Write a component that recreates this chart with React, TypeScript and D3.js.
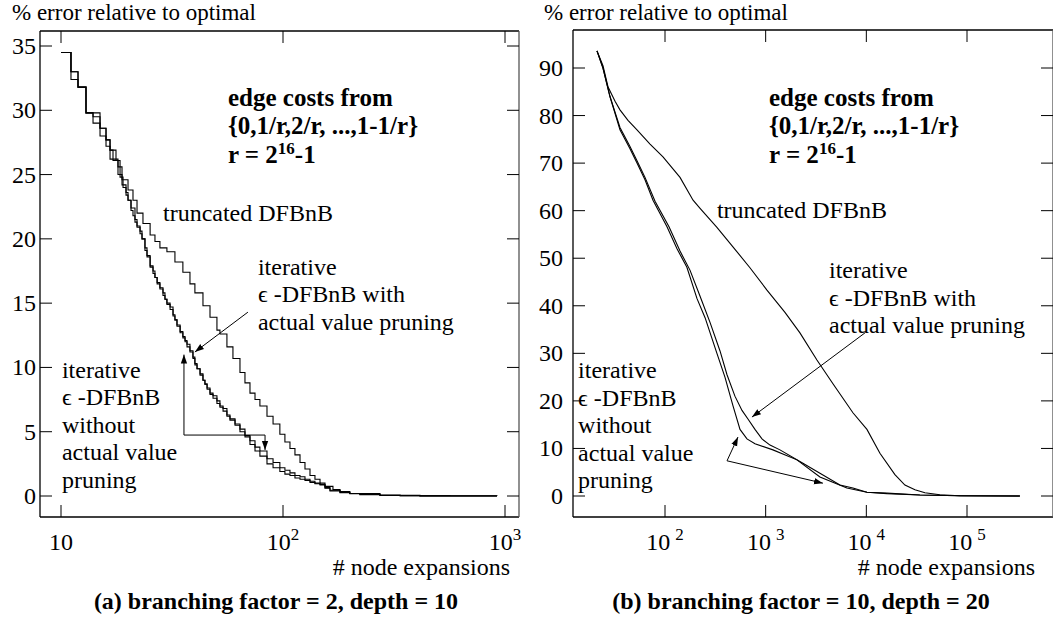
import React from 'react';
import * as d3 from 'd3';

const FONT = '"Liberation Serif", "DejaVu Serif", serif';

// ---- panel (a): branching factor 2, depth 10 ----
const aTruncX = [10, 11.09, 11.93, 12.96, 13.94, 14.99, 15.95, 16.63, 18.06, 18.83, 20.04, 21.1, 22.0, 23.4, 25.2, 26.5, 27.9, 30.0, 32.6, 35.4, 38.1, 40.1, 43.6, 46.9, 50.4, 52.0, 55.9, 59.5, 64.0, 67.4, 71.0, 74.8, 78.7, 84.7, 90.2, 96.8, 102, 107.5, 113.2, 119.3, 125.6, 132.3, 139.3, 146.8, 154.6, 167.9, 180.6, 200, 273.6, 414, 920];
const aTruncY = [34.5, 33.0, 31.8, 29.8, 29.0, 28.0, 27.2, 26.2, 25.6, 24.6, 23.8, 23.0, 22.0, 21.2, 20.3, 19.8, 19.3, 19.0, 18.2, 17.4, 16.5, 15.8, 14.8, 13.9, 12.9, 12.6, 11.6, 10.7, 9.6, 8.8, 8.0, 7.5, 7.0, 6.2, 5.6, 4.8, 4.2, 3.7, 3.2, 2.6, 2.1, 1.6, 1.3, 1.0, 0.75, 0.5, 0.35, 0.2, 0.06, 0.02, 0];

const aWithX = [10, 11.09, 11.93, 12.96, 13.94, 14.99, 15.95, 16.63, 17.15, 18.06, 18.83, 19.63, 20.04, 20.67, 21.1, 21.54, 22.0, 22.7, 23.17, 23.89, 24.4, 25.2, 25.97, 26.5, 27.1, 27.9, 28.8, 29.4, 30.0, 31.0, 31.96, 32.6, 33.3, 34.4, 35.4, 36.2, 36.95, 38.1, 39.3, 40.1, 41.0, 42.3, 43.6, 44.5, 45.5, 46.9, 48.4, 50.4, 52.0, 53.7, 55.9, 57.7, 60.8, 64.0, 67.4, 71.0, 74.8, 78.7, 84.7, 90.2, 96.8, 102, 107.5, 113.2, 119.3, 125.6, 132.3, 139.3, 146.8, 154.6, 162.8, 180.6, 200, 222, 273.6, 337, 414, 565, 920];
const aWithY = [34.5, 33.0, 31.8, 29.8, 29.5, 28.6, 27.7, 26.9, 26.1, 25.0, 24.2, 23.4, 23.0, 22.2, 21.8, 21.3, 20.9, 20.4, 20.0, 19.1, 18.6, 17.9, 17.3, 17.0, 16.5, 16.1, 15.6, 15.3, 14.9, 14.5, 14.0, 13.7, 13.2, 12.7, 12.3, 12.0, 11.6, 11.2, 10.7, 10.2, 9.9, 9.4, 9.0, 8.7, 8.3, 7.9, 7.6, 7.2, 6.9, 6.6, 6.2, 5.9, 5.5, 5.0, 4.6, 4.0, 3.5, 3.1, 2.5, 2.2, 1.9, 1.7, 1.6, 1.4, 1.3, 1.2, 1.05, 0.95, 0.85, 0.6, 0.4, 0.25, 0.18, 0.1, 0.05, 0.02, 0.01, 0, 0];

const aWithoutX = [10, 11.09, 11.93, 12.96, 14.99, 15.95, 16.63, 17.69, 18.45, 19.03, 19.63, 20.04, 20.67, 21.54, 22.0, 22.7, 23.17, 23.89, 24.4, 25.2, 25.97, 26.5, 27.1, 27.9, 28.8, 29.4, 30.0, 31.0, 31.96, 32.6, 33.3, 34.4, 35.4, 36.2, 36.95, 38.1, 39.3, 40.1, 41.0, 42.3, 43.6, 44.5, 45.5, 46.9, 48.4, 50.4, 52.0, 53.7, 55.9, 57.7, 60.8, 64.0, 67.4, 71.0, 74.8, 78.7, 84.7, 90.2, 96.8, 102, 107.5, 113.2, 119.3, 125.6, 132.3, 139.3, 146.8, 154.6, 162.8, 180.6, 200, 222, 273.6, 337, 414, 565, 920];
const aWithoutY = [34.5, 32.4, 31.8, 29.8, 28.6, 27.7, 26.9, 26.1, 24.8, 24.0, 23.6, 23.0, 22.4, 21.5, 21.0, 20.6, 20.0, 19.3, 18.7, 17.8, 17.5, 17.0, 16.6, 16.2, 15.8, 15.3, 15.0, 14.7, 14.1, 13.7, 13.3, 12.8, 12.4, 12.1, 11.8, 11.3, 10.8, 10.3, 9.9, 9.5, 9.0, 8.7, 8.4, 8.0, 7.8, 7.4, 7.0, 6.8, 6.3, 6.0, 5.6, 5.2, 4.7, 4.3, 3.8, 3.5, 2.9, 2.6, 2.2, 2.0, 1.8, 1.6, 1.5, 1.3, 1.15, 1.0, 0.9, 0.65, 0.45, 0.28, 0.2, 0.12, 0.06, 0.03, 0.01, 0, 0];

const aYTicks = [0, 5, 10, 15, 20, 25, 30, 35];
const aXTicks = [10, 100, 1000];
const aXTickLabels = [['10', ''], ['10', '2'], ['10', '3']];

// ---- panel (b): branching factor 10, depth 20 ----
const bTruncX = [21.1, 24.2, 27.2, 31.9, 35.7, 42.9, 52.7, 71.0, 95.5, 141, 190, 223, 328, 473, 698, 1030, 1555, 2190, 3230, 4660, 7360, 10140, 13650, 19230, 24170, 30400, 38200, 53800, 84900, 335000];
const bTruncY = [93.6, 90.5, 86, 83, 81.2, 79, 77, 74, 71.3, 67, 62.2, 60.5, 56.5, 52.4, 48, 43.3, 38.6, 34.3, 28.6, 23.6, 17.5, 14.0, 9.0, 4.5, 2.3, 1.3, 0.7, 0.25, 0.05, 0];

const bWithX = [21.1, 24.2, 28.4, 35.7, 44.9, 52.7, 63.3, 79.6, 109.6, 141, 177, 223, 280, 352, 413, 495, 582, 667, 783, 919, 1104, 1387, 2345, 3461, 5470, 7360, 10140, 16030, 34040, 84900, 335000];
const bWithY = [93.6, 90, 84, 77.5, 73.5, 70.5, 67, 62, 56.6, 51.5, 47.5, 42, 36.5, 30.5, 25.5, 21, 18, 16.2, 14, 12, 10.7, 9.7, 6.9, 4.8, 2.3, 1.7, 0.8, 0.5, 0.2, 0.05, 0];

const bWithoutX = [21.1, 24.2, 28.4, 35.7, 44.9, 52.7, 63.3, 76.0, 104.7, 131.6, 165, 208, 250, 328, 394, 473, 556, 652, 783, 1181, 2046, 3461, 6415, 10140, 16030, 34040, 84900, 335000];
const bWithoutY = [93.6, 90, 84, 77, 73, 70, 66.5, 62.2, 56.6, 52, 48.1, 41.5, 37.5, 30, 25, 19, 14, 12, 11, 9.7, 7.6, 4.0, 1.7, 0.8, 0.6, 0.2, 0.05, 0];

const bYTicks = [0, 10, 20, 30, 40, 50, 60, 70, 80, 90];
const bXTicks = [100, 1000, 10000, 100000];
const bXTickLabels = [['10', '2'], ['10', '3'], ['10', '4'], ['10', '5']];

const yTitle = '% error relative to optimal';
const xTitle = '# node expansions';
const captionA = '(a) branching factor = 2, depth = 10';
const captionB = '(b) branching factor = 10, depth = 20';
const costLines = ['edge costs from', '{0,1/r,2/r, ...,1-1/r}'];

function zip(xs: number[], ys: number[]): [number, number][] {
  return xs.map((x, i) => [x, ys[i]]);
}

type Label = { x: number; y: number; lines: string[] };
type Arrow = { pts: [number, number][]; start?: boolean };

function Panel(props: {
  x: d3.ScaleLogarithmic<number, number>;
  y: d3.ScaleLinear<number, number>;
  frame: { x0: number; x1: number; y0: number; y1: number };
  series: [number, number][][];
  step: boolean;
  yTicks: number[];
  xTicks: number[];
  xLabels: string[][];
  supGap: number;
  bold: { x: number; y: number };
  labels: Label[];
  lineGap: number;
  arrows: Arrow[];
  caption: string;
  captionX: number;
  xTitleEnd: number;
  titleX: number;
  yLabelEnd: number;
}) {
  const { x, y, frame } = props;
  const line = d3
    .line<[number, number]>()
    .x((d) => x(d[0]))
    .y((d) => y(d[1]))
    .curve(props.step ? d3.curveStepAfter : d3.curveLinear);
  const aline = d3
    .line<[number, number]>()
    .x((d) => x(d[0]))
    .y((d) => y(d[1]));
  const tl = 12;
  const bx = x(props.bold.x);
  const by = y(props.bold.y);
  return (
    <g style={{ fontFamily: FONT }} fill="#000">
      <text x={props.titleX} y={20} fontSize={23}>{yTitle}</text>
      <line x1={frame.x0} x2={frame.x1} y1={frame.y0} y2={frame.y0} stroke="#000" strokeWidth={1.3} />
      <line x1={frame.x0} x2={frame.x1} y1={frame.y1} y2={frame.y1} stroke="#000" strokeWidth={1.3} />
      <line x1={frame.x0} x2={frame.x0} y1={frame.y0} y2={frame.y1} stroke="#000" strokeWidth={1.3} />
      <line x1={frame.x1} x2={frame.x1} y1={frame.y0} y2={frame.y1} stroke="#555" strokeWidth={1.3} />
      {props.yTicks.map((t) => (
        <g key={'y' + t}>
          <line x1={frame.x0} x2={frame.x0 + tl} y1={y(t)} y2={y(t)} stroke="#000" />
          <line x1={frame.x1} x2={frame.x1 - tl} y1={y(t)} y2={y(t)} stroke="#000" />
          <text x={props.yLabelEnd} y={y(t) + 8} fontSize={24} textAnchor="end">{t}</text>
        </g>
      ))}
      {props.xTicks.map((t, i) => (
        <g key={'x' + t}>
          <line x1={x(t)} x2={x(t)} y1={frame.y1} y2={frame.y1 - tl} stroke="#000" />
          <line x1={x(t)} x2={x(t)} y1={frame.y0} y2={frame.y0 + tl} stroke="#000" />
          <text x={x(t)} y={550} fontSize={24} textAnchor="middle">
            {props.xLabels[i][0]}
            {props.xLabels[i][1] && (
              <tspan dx={props.supGap} dy={-10} fontSize={17}>{props.xLabels[i][1]}</tspan>
            )}
          </text>
        </g>
      ))}
      <text x={props.xTitleEnd} y={575} fontSize={24} textAnchor="end">{xTitle}</text>
      <text x={props.captionX} y={609} fontSize={24} fontWeight="bold" textAnchor="middle">
        {props.caption}
      </text>
      {props.series.map((s, i) => (
        <path key={'s' + i} d={line(s) || ''} fill="none" stroke="#000" strokeWidth={1.1} />
      ))}
      <g fontSize={25} fontWeight="bold">
        <text x={bx} y={by}>{costLines[0]}</text>
        <text x={bx} y={by + 28}>{costLines[1]}</text>
        <text x={bx} y={by + 57}>
          r = 2<tspan dy={-9} fontSize={17}>16</tspan>
          <tspan dy={9}>-1</tspan>
        </text>
      </g>
      {props.labels.map((l, i) => (
        <text key={'l' + i} x={x(l.x)} y={y(l.y)} fontSize={24}>
          {l.lines.map((t, j) => (
            <tspan key={j} x={x(l.x)} dy={j === 0 ? 0 : props.lineGap}>{t}</tspan>
          ))}
        </text>
      ))}
      {props.arrows.map((a, i) => (
        <path
          key={'a' + i}
          d={aline(a.pts) || ''}
          fill="none"
          stroke="#000"
          strokeWidth={1}
          markerEnd="url(#ah)"
          markerStart={a.start ? 'url(#ah)' : undefined}
        />
      ))}
    </g>
  );
}

export default function App() {
  const xA = d3.scaleLog().domain([10, 1000]).range([61, 505]);
  const yA = d3.scaleLinear().domain([0, 35]).range([496, 46]);
  const xB = d3.scaleLog().domain([100, 100000]).range([665, 967]);
  const yB = d3.scaleLinear().domain([0, 90]).range([496, 68]);

  return (
    <svg width={1053} height={624} style={{ position: 'absolute', left: 0, top: 0, background: '#fff' }}>
      <defs>
        <marker id="ah" viewBox="0 0 10 10" refX="10" refY="5" markerWidth="9" markerHeight="9" orient="auto-start-reverse">
          <path d="M0,1.5 L10,5 L0,8.5 z" fill="#000" />
        </marker>
      </defs>
      <Panel
        x={xA}
        y={yA}
        frame={{ x0: 40, x1: 519, y0: 31, y1: 517 }}
        series={[zip(aTruncX, aTruncY), zip(aWithX, aWithY), zip(aWithoutX, aWithoutY)]}
        step={true}
        yTicks={aYTicks}
        xTicks={aXTicks}
        xLabels={aXTickLabels}
        supGap={0}
        bold={{ x: 56.5, y: 30.3 }}
        labels={[
          { x: 28.8, y: 21.4, lines: ['truncated DFBnB'] },
          { x: 77.1, y: 17.2, lines: ['iterative', 'ϵ -DFBnB with', 'actual value pruning'] },
          { x: 10.1, y: 9.2, lines: ['iterative', 'ϵ -DFBnB', 'without', 'actual value', 'pruning'] },
        ]}
        lineGap={27.5}
        arrows={[
          { pts: [[69.5, 14.3], [40.1, 11.2]] },
          { pts: [[35.8, 11.0], [35.8, 4.74], [83.0, 4.74], [83.0, 3.58]], start: true },
        ]}
        caption={captionA}
        captionX={276}
        xTitleEnd={510}
        titleX={12}
        yLabelEnd={36}
      />
      <Panel
        x={xB}
        y={yB}
        frame={{ x0: 573, x1: 1053, y0: 30, y1: 517 }}
        series={[zip(bTruncX, bTruncY), zip(bWithX, bWithY), zip(bWithoutX, bWithoutY)]}
        step={false}
        yTicks={bYTicks}
        xTicks={bXTicks}
        xLabels={bXTickLabels}
        supGap={5}
        bold={{ x: 1079, y: 82.0 }}
        labels={[
          { x: 328, y: 58.5, lines: ['truncated DFBnB'] },
          { x: 4256, y: 45.8, lines: ['iterative', 'ϵ -DFBnB with', 'actual value pruning'] },
          { x: 13.7, y: 24.8, lines: ['iterative', 'ϵ -DFBnB', 'without', 'actual value', 'pruning'] },
        ]}
        lineGap={27.5}
        arrows={[
          { pts: [[9690, 34.3], [731, 16.6]] },
          { pts: [[413, 7.4], [531, 12.4]] },
          { pts: [[413, 7.4], [3707, 2.7]] },
        ]}
        caption={captionB}
        captionX={801}
        xTitleEnd={1035}
        titleX={544}
        yLabelEnd={563}
      />
    </svg>
  );
}
